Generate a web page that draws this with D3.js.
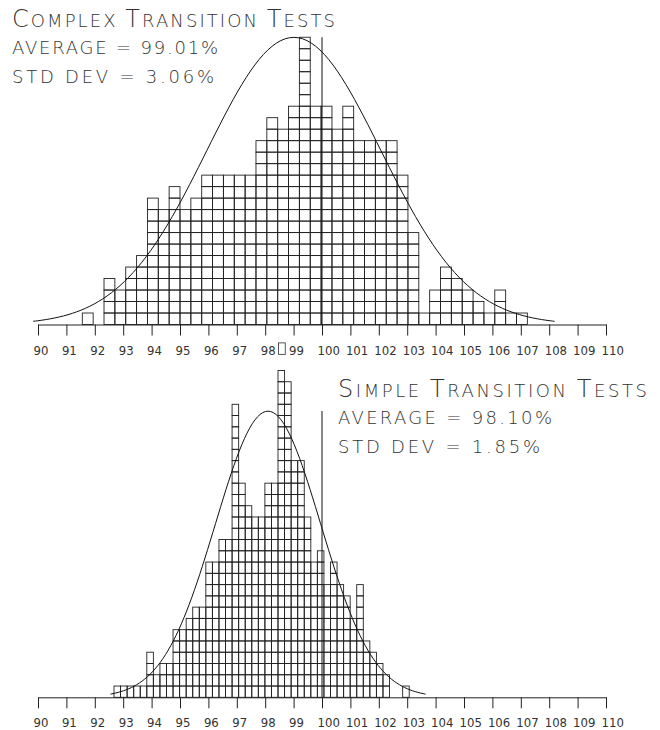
<!DOCTYPE html>
<html>
<head>
<meta charset="utf-8">
<script src="https://cdn.jsdelivr.net/npm/d3@7"></script>
<style>
  body { margin: 0; background: #fff; }
  svg { display: block; }
  .lbl { font-family: "DejaVu Sans", sans-serif; font-weight: 200; fill: #333; }
</style>
</head>
<body>
<svg id="chart"></svg>
<script>
// tick labels on both axes
const tickValues = [90, 91, 92, 93, 94, 95, 96, 97, 98, 99, 100, 101, 102, 103, 104, 105, 106, 107, 108, 109, 110]

// complex transition tests: box counts per bin
const complexBinStart = 91.56
const complexBinWidth = 0.3822
const complexCounts = [1, 0, 4, 3, 5, 6, 11, 10, 12, 10, 11, 13, 13, 13, 13, 13, 16, 18, 17, 19,
                       25, 19, 19, 17, 19, 16, 16, 16, 16, 13, 8, 1, 3, 5, 4, 3, 2, 1, 3, 1, 1]
const complexMean = 99.01
const complexSd = 3.06

// simple transition tests
const simpleBinStart = 92.676
const simpleBinWidth = 0.2310
const simpleCounts = [1, 1, 1, 1, 1, 4, 2, 3, 3, 6, 6, 7, 8, 8, 12, 12, 14, 14, 26, 19,
                      17, 16, 16, 19, 19, 29, 28, 21, 21, 16, 12, 13, 10, 12, 10, 9, 7, 10, 5, 4,
                      3, 2, 0, 0, 1]
const simpleMean = 98.10
const simpleSd = 1.85

// stray box printed under the upper axis (value, row below the axis)
const strayBoxes = [{value: 98.47, row: -2.6}]

const target = 100

var width = 660, height = 730

var svg = d3.select("#chart")
    .attr("width", width)
    .attr("height", height)

var x = d3.scaleLinear()
    .domain([90, 110])
    .range([38, 606])

function drawPanel(opt){
    var g = svg.append("g").attr("class", "panel")

    // one row of boxes = one test
    var y = d3.scaleLinear()
        .domain([0, 1])
        .range([opt.baseline, opt.baseline - opt.boxH])

    var boxes = []
    opt.counts.forEach(function(c, i){
        for (var k = 0; k < c; k++) boxes.push({bin: i, row: k})
    })

    var bw = x(opt.binStart + opt.binWidth) - x(opt.binStart)

    g.append("g").selectAll("rect")
        .data(boxes)
        .enter()
        .append("rect")
        .attr("x", d => x(opt.binStart + d.bin * opt.binWidth))
        .attr("y", d => y(d.row + 1))
        .attr("width", bw)
        .attr("height", d => y(d.row) - y(d.row + 1))
        .style("fill", "none")
        .style("stroke", "#222")
        .style("stroke-width", 0.9)

    if (opt.stray) {
        g.append("g").selectAll("rect")
            .data(opt.stray)
            .enter()
            .append("rect")
            .attr("x", d => x(d.value))
            .attr("y", d => y(d.row + 1))
            .attr("width", bw * 0.62)
            .attr("height", d => y(d.row) - y(d.row + 1))
            .style("fill", "none")
            .style("stroke", "#444")
            .style("stroke-width", 0.9)
    }

    // normal curve, scaled to a fixed peak height
    var pts = d3.range(-3, 3.0001, 0.05).map(z => [opt.mean + z * opt.sd, opt.peak * Math.exp(-z * z / 2)])
    g.append("path")
        .datum(pts)
        .attr("d", d3.line().x(d => x(d[0])).y(d => y(d[1])).curve(d3.curveBasis))
        .style("fill", "none")
        .style("stroke", "#111")
        .style("stroke-width", 1)

    // 100% marker
    g.append("line")
        .attr("x1", x(target)).attr("x2", x(target))
        .attr("y1", y(0)).attr("y2", y(opt.peak))
        .style("stroke", "#111")
        .style("stroke-width", 1)

    // axis
    var axis = g.append("g")
        .attr("transform", "translate(0," + opt.baseline + ")")
        .call(d3.axisBottom(x).tickValues(tickValues).tickSize(11).tickSizeOuter(0).tickFormat(d3.format("d")))
    axis.select(".domain").style("stroke", "#222")
    axis.selectAll(".tick line").style("stroke", "#222")
    axis.selectAll(".tick text")
        .attr("class", "lbl")
        .attr("text-anchor", "start")
        .attr("x", -5)
        .attr("y", 30)
        .attr("dy", null)
        .style("font-family", "'DejaVu Sans Condensed', 'DejaVu Sans', sans-serif")
        .style("font-size", "13px")

    // title block, small caps drawn with tspans
    var t = g.append("text").attr("class", "lbl")
        .attr("x", opt.tx).attr("y", opt.ty)
        .attr("textLength", opt.titleLen).attr("lengthAdjust", "spacing")
    opt.title.forEach(function(w, i){
        t.append("tspan").style("font-size", "24px").text(w[0])
        t.append("tspan").style("font-size", "18px").text(w.slice(1) + (i < opt.title.length - 1 ? " " : ""))
    })

    g.append("text").attr("class", "lbl")
        .attr("x", opt.tx).attr("y", opt.ty + 26.6)
        .attr("textLength", opt.avgLen).attr("lengthAdjust", "spacing")
        .style("font-size", "18px")
        .text("AVERAGE = " + opt.mean.toFixed(2) + "%")

    g.append("text").attr("class", "lbl")
        .attr("x", opt.tx).attr("y", opt.ty + 55.5)
        .attr("textLength", opt.sdLen).attr("lengthAdjust", "spacing")
        .style("font-size", "18px")
        .text("STD DEV = " + opt.sd.toFixed(2) + "%")

    return g
}

drawPanel({
    counts: complexCounts, binStart: complexBinStart, binWidth: complexBinWidth,
    mean: complexMean, sd: complexSd, peak: 25,
    baseline: 324.5, boxH: 11.49, stray: strayBoxes,
    title: ["COMPLEX", "TRANSITION", "TESTS"],
    tx: 12, ty: 27, titleLen: 323, avgLen: 206, sdLen: 202
})

drawPanel({
    counts: simpleCounts, binStart: simpleBinStart, binWidth: simpleBinWidth,
    mean: simpleMean, sd: simpleSd, peak: 25.4,
    baseline: 697.3, boxH: 11.27,
    title: ["SIMPLE", "TRANSITION", "TESTS"],
    tx: 338, ty: 397, titleLen: 309, avgLen: 214, sdLen: 202
})
</script>
</body>
</html>
